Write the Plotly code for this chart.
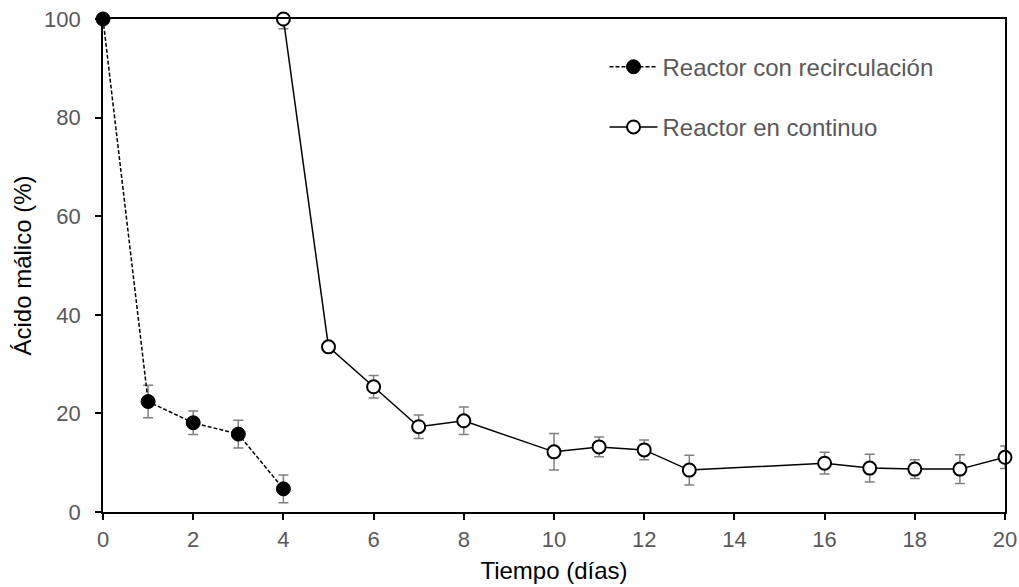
import plotly.graph_objects as go

# Data
dias_recirc = [0, 1, 2, 3, 4]
malico_recirc = [100, 22.4, 18.1, 15.8, 4.7]
err_recirc = [0, 3.3, 2.4, 2.8, 2.8]

dias_cont = [4, 5, 6, 7, 8, 10, 11, 12, 13, 16, 17, 18, 19, 20]
malico_cont = [100, 33.5, 25.4, 17.3, 18.5, 12.2, 13.2, 12.6, 8.5, 9.9, 8.9, 8.7, 8.7, 11.1]
err_cont = [2.0, 0, 2.3, 2.4, 2.8, 3.7, 2.0, 2.0, 3.0, 2.2, 2.8, 1.9, 2.9, 2.3]

x_ticks = list(range(0, 21, 2))
y_ticks = list(range(0, 101, 20))

FONT = "Liberation Sans, Arial, sans-serif"
GRAY_TXT = "#595959"
ERR_COLOR = "#808080"

fig = go.Figure()

fig.add_trace(go.Scatter(
    x=dias_recirc, y=malico_recirc, name="Reactor con recirculación",
    mode="lines+markers", legendgroup="a",
    line=dict(color="black", width=1.5, dash="4px,2px"),
    marker=dict(symbol="circle", size=14, color="black", line=dict(color="black", width=1)),
    error_y=dict(type="data", array=err_recirc, visible=True, color=ERR_COLOR, thickness=1.5, width=5),
    cliponaxis=False,
))

fig.add_trace(go.Scatter(
    x=dias_cont, y=malico_cont, name="Reactor en continuo",
    mode="lines+markers", legendgroup="b",
    line=dict(color="black", width=1.5),
    marker=dict(symbol="circle", size=13, color="white", line=dict(color="black", width=2)),
    error_y=dict(type="data", array=err_cont, visible=True, color=ERR_COLOR, thickness=1.5, width=5),
    cliponaxis=False,
))

axis_common = dict(showgrid=False, zeroline=False, automargin=False,
                   tickcolor="black", tickwidth=1.5, ticklen=6)

fig.update_layout(
    width=1019, height=587,
    margin=dict(l=103, r=14, t=19, b=75),
    plot_bgcolor="white", paper_bgcolor="white",
    font=dict(family=FONT, size=22, color=GRAY_TXT),
    xaxis=dict(range=[0, 20], tickvals=x_ticks, ticks="outside", mirror=True, showline=True,
               linecolor="black", linewidth=1.6,
               title=dict(text="Tiempo (días)", font=dict(color="black", size=24), standoff=11),
               tickfont=dict(color=GRAY_TXT, size=22), ticklabelstandoff=1, **axis_common),
    yaxis=dict(range=[0, 100], tickvals=y_ticks, ticks="outside", mirror=True, showline=True,
               linecolor="black", linewidth=1.6,
               title=dict(text="Ácido málico (%)", font=dict(color="black", size=24), standoff=6),
               tickfont=dict(color=GRAY_TXT, size=22), ticklabelstandoff=10, **axis_common),
    xaxis2=dict(range=[0, 20], tickvals=x_ticks, ticks="inside", overlaying="x", showticklabels=False,
                showline=False, anchor="y", **axis_common),
    yaxis2=dict(range=[0, 100], tickvals=y_ticks, ticks="inside", overlaying="y", showticklabels=False,
                showline=False, anchor="x", **axis_common),
    showlegend=True,
    legend=dict(x=0.556, y=0.948, xanchor="left", yanchor="top", bgcolor="rgba(0,0,0,0)",
                font=dict(color=GRAY_TXT, size=24), tracegroupgap=26, itemwidth=48),
)

fig.write_html("out.html")
